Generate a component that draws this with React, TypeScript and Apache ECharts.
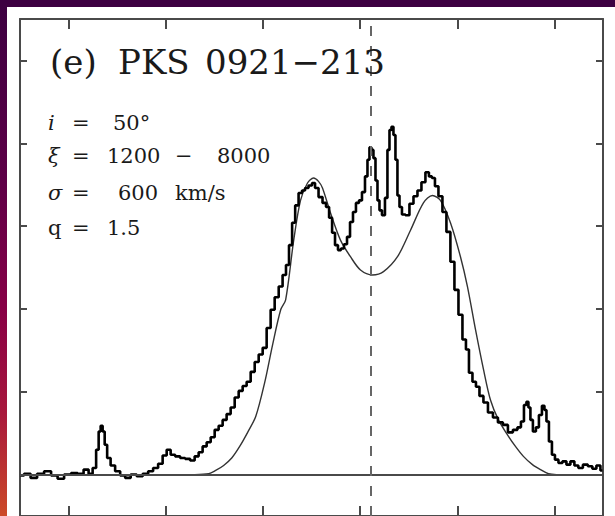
import React, { useEffect, useRef } from "react";
import * as echarts from "echarts";

// Observed wavelength (Å) and relative flux of the Hα region spectrum
const specWave = [
  6550.6, 6557.8, 6564.0, 6571.2, 6578.4, 6585.6, 6591.8, 6599.0, 6606.2, 6612.4,
  6618.5, 6622.7, 6626.8, 6629.9, 6632.0, 6634.0, 6636.1, 6638.2, 6641.2, 6645.3,
  6650.5, 6655.7, 6660.8, 6667.0, 6673.2, 6679.4, 6684.4, 6689.6, 6694.7, 6698.9,
  6703.0, 6707.1, 6712.2, 6717.4, 6722.5, 6727.7, 6731.8, 6735.9, 6740.0, 6744.2,
  6748.3, 6752.4, 6756.5, 6760.6, 6764.7, 6768.9, 6773.0, 6777.1, 6781.2, 6785.3,
  6789.5, 6793.6, 6797.7, 6801.8, 6805.9, 6810.0, 6814.2, 6818.3, 6822.2, 6825.3,
  6828.4, 6831.7, 6834.7, 6838.7, 6841.8, 6844.9, 6849.0, 6852.1, 6855.2, 6859.3,
  6863.4, 6866.5, 6869.7, 6872.7, 6875.7, 6878.8, 6881.9, 6885.0, 6888.1, 6891.2,
  6894.2, 6897.3, 6900.4, 6903.5, 6906.6, 6908.6, 6910.7, 6912.7, 6914.8, 6916.9,
  6918.9, 6921.0, 6924.1, 6927.1, 6929.2, 6931.3, 6933.3, 6935.4, 6937.4, 6939.5,
  6941.6, 6944.6, 6948.7, 6952.9, 6957.0, 6961.1, 6965.2, 6969.3, 6972.4, 6975.5,
  6978.6, 6982.7, 6986.8, 6990.9, 6995.0, 6999.2, 7003.3, 7007.4, 7010.5, 7013.6,
  7017.7, 7020.8, 7024.9, 7029.0, 7034.2, 7039.3, 7044.4, 7049.6, 7054.7, 7059.9,
  7064.0, 7067.1, 7070.2, 7072.2, 7074.3, 7076.3, 7079.4, 7082.5, 7085.6, 7088.7,
  7090.8, 7092.8, 7095.9, 7099.0, 7102.1, 7106.2, 7110.3, 7114.4, 7118.5, 7122.6,
  7126.7, 7131.9, 7137.0, 7141.1, 7145.3, 7149.4,
];
const specFlux = [
  -0.01, 0.01, -0.04, 0.01, 0.04, -0.01, -0.05, 0.0, 0.02, 0.01,
  0.06, 0.01, 0.08, 0.3, 0.52, 0.59, 0.52, 0.36, 0.2, 0.11,
  0.04, -0.01, -0.04, 0.0, -0.02, 0.01, 0.04, 0.08, 0.13, 0.23,
  0.3, 0.24, 0.22, 0.2, 0.19, 0.17, 0.22, 0.27, 0.34, 0.39,
  0.45, 0.54, 0.59, 0.66, 0.73, 0.81, 0.93, 1.01, 1.07, 1.12,
  1.24, 1.36, 1.45, 1.53, 1.77, 1.99, 2.14, 2.27, 2.41, 2.53,
  2.77, 3.04, 3.25, 3.4, 3.43, 3.46, 3.49, 3.52, 3.46, 3.35,
  3.28, 3.23, 3.1, 2.92, 2.77, 2.71, 2.73, 2.78, 2.87, 3.05,
  3.17, 3.28, 3.31, 3.41, 3.6, 3.8, 3.95, 3.92, 3.82, 3.55,
  3.31, 3.19, 3.13, 3.34, 3.92, 4.16, 4.2, 4.1, 3.8, 3.37,
  3.23, 3.14, 3.13, 3.27, 3.36, 3.43, 3.53, 3.65, 3.6, 3.58,
  3.48, 3.36, 3.17, 2.93, 2.57, 2.23, 1.93, 1.63, 1.51, 1.23,
  1.12, 1.06, 0.95, 0.87, 0.75, 0.69, 0.63, 0.6, 0.51, 0.54,
  0.57, 0.64, 0.84, 0.88, 0.81, 0.66, 0.52, 0.57, 0.72, 0.83,
  0.78, 0.64, 0.4, 0.24, 0.18, 0.14, 0.16, 0.12, 0.16, 0.11,
  0.08, 0.12, 0.1, 0.07, 0.11, 0.05,
];

// Disk model profile
const modelWave = [
  6550, 6730, 6744.2, 6751.4, 6759.6, 6767.9, 6776.1, 6784.3, 6792.6, 6801.8,
  6810.0, 6818.3, 6823.4, 6831.7, 6838.7, 6845.9, 6852.1, 6857.2, 6861.3, 6869.5,
  6879.8, 6890.1, 6900.4, 6912.8, 6924.1, 6938.5, 6951.9, 6965.2, 6974.5, 6982.7,
  6993.0, 7003.3, 7010.5, 7018.8, 7027.0, 7034.2, 7042.4, 7051.7, 7059.9, 7068.1,
  7077.4, 7085.6, 7093.9, 7102.1, 7150,
];
const modelFlux = [
  0, 0, 0.01, 0.05, 0.11, 0.2, 0.34, 0.51, 0.7, 1.11,
  1.57, 1.99, 2.11, 2.83, 3.31, 3.52, 3.58, 3.54, 3.46, 3.16,
  2.83, 2.63, 2.47, 2.41, 2.45, 2.63, 2.95, 3.28, 3.37, 3.31,
  3.04, 2.63, 2.27, 1.75, 1.27, 0.9, 0.66, 0.48, 0.34, 0.22,
  0.12, 0.06, 0.01, 0, 0,
];

const waveTicks = [6600, 6700, 6800, 6900, 7000, 7100];
const fluxTicks = [0, 1, 2, 3, 4, 5];
const haObserved = 6911.3; // Hα at z = 0.0531

const frameColor = "#4a4a4a";
const serif = '"DejaVu Serif", serif';

function txt(text: string, x: number, y: number, size: number, italic = false) {
  const font = `${italic ? "italic " : ""}${size}px ${serif}`;
  return {
    type: "text",
    z: 50,
    style: {
      text,
      x,
      y,
      font,
      fill: "#1a1a1a",
      textAlign: "left",
      textVerticalAlign: "middle",
      align: "left",
      verticalAlign: "middle",
    },
  };
}

function xAxisDef(position: "bottom" | "top") {
  return {
    type: "value",
    position,
    min: 6550,
    max: 7150,
    axisLine: { show: true, onZero: false, lineStyle: { color: frameColor, width: 2 } },
    axisTick: { show: true, inside: true, length: 10, customValues: waveTicks, lineStyle: { color: frameColor, width: 2 } },
    axisLabel: { show: false },
    splitLine: { show: false },
  };
}

function yAxisDef(position: "left" | "right") {
  return {
    type: "value",
    position,
    min: -0.5,
    max: 5.5,
    axisLine: { show: true, onZero: false, lineStyle: { color: frameColor, width: 2 } },
    axisTick: { show: true, inside: true, length: 7, customValues: fluxTicks, lineStyle: { color: frameColor, width: 2 } },
    axisLabel: { show: false },
    splitLine: { show: false },
  };
}

export default function App() {
  const ref = useRef<HTMLDivElement>(null);

  useEffect(() => {
    if (!ref.current) return;
    const chart = echarts.init(ref.current, null, { renderer: "svg" });
    chart.setOption({
      animation: false,
      backgroundColor: "#ffffff",
      grid: { left: 20, top: 19, width: 583, height: 498 },
      xAxis: [xAxisDef("bottom"), xAxisDef("top")],
      yAxis: [yAxisDef("left"), yAxisDef("right")],
      series: [
        {
          type: "line",
          name: "model",
          data: modelWave.map((w, i) => [w, modelFlux[i]]),
          smooth: 0.3,
          symbol: "none",
          lineStyle: { color: "#333333", width: 1.4 },
          z: 2,
          markLine: {
            silent: true,
            symbol: ["none", "none"],
            label: { show: false },
            data: [
              { yAxis: 0, lineStyle: { color: frameColor, width: 2, type: "solid" } },
              { xAxis: haObserved, lineStyle: { color: "#666666", width: 2, type: [10, 10] } },
            ],
          },
        },
        {
          type: "line",
          name: "spectrum",
          data: specWave.map((w, i) => [w, specFlux[i]]),
          step: "middle",
          symbol: "none",
          lineStyle: { color: "#000000", width: 2.6 },
          z: 3,
        },
      ],
      graphic: [
        { type: "rect", z: 100, shape: { x: 0, y: 0, width: 615, height: 7 }, style: { fill: "#3d0041" } },
        {
          type: "rect",
          z: 100,
          shape: { x: 0, y: 0, width: 7, height: 516 },
          style: {
            fill: new echarts.graphic.LinearGradient(0, 0, 0, 1, [
              { offset: 0, color: "#3c0041" },
              { offset: 0.35, color: "#5e0047" },
              { offset: 0.6, color: "#880046" },
              { offset: 0.8, color: "#a8183c" },
              { offset: 1, color: "#cc4a28" },
            ]),
          },
        },
        txt("(e)", 50, 62, 34),
        txt("PKS", 118, 62, 34),
        txt("0921\u2212213", 205, 62, 34),
        txt("i", 48, 122.5, 21, true),
        txt("=", 72, 122.5, 21),
        txt("50\u00b0", 113, 122.5, 21),
        txt("\u03be", 48, 155.5, 21, true),
        txt("=", 72, 155.5, 21),
        txt("1200", 107, 155.5, 21),
        txt("\u2212", 175, 155.5, 21),
        txt("8000", 217, 155.5, 21),
        txt("\u03c3", 48, 192.5, 21, true),
        txt("=", 72, 192.5, 21),
        txt("600", 118, 192.5, 21),
        txt("km/s", 175, 192.5, 21),
        txt("q", 48, 227.5, 21),
        txt("=", 72, 227.5, 21),
        txt("1.5", 107, 227.5, 21),
      ],
    });
    return () => chart.dispose();
  }, []);

  return (
    <div style={{ position: "fixed", left: 0, top: 0, width: 615, height: 516, overflow: "hidden", background: "#fff" }}>
      <div ref={ref} style={{ width: 615, height: 516 }} />
    </div>
  );
}
